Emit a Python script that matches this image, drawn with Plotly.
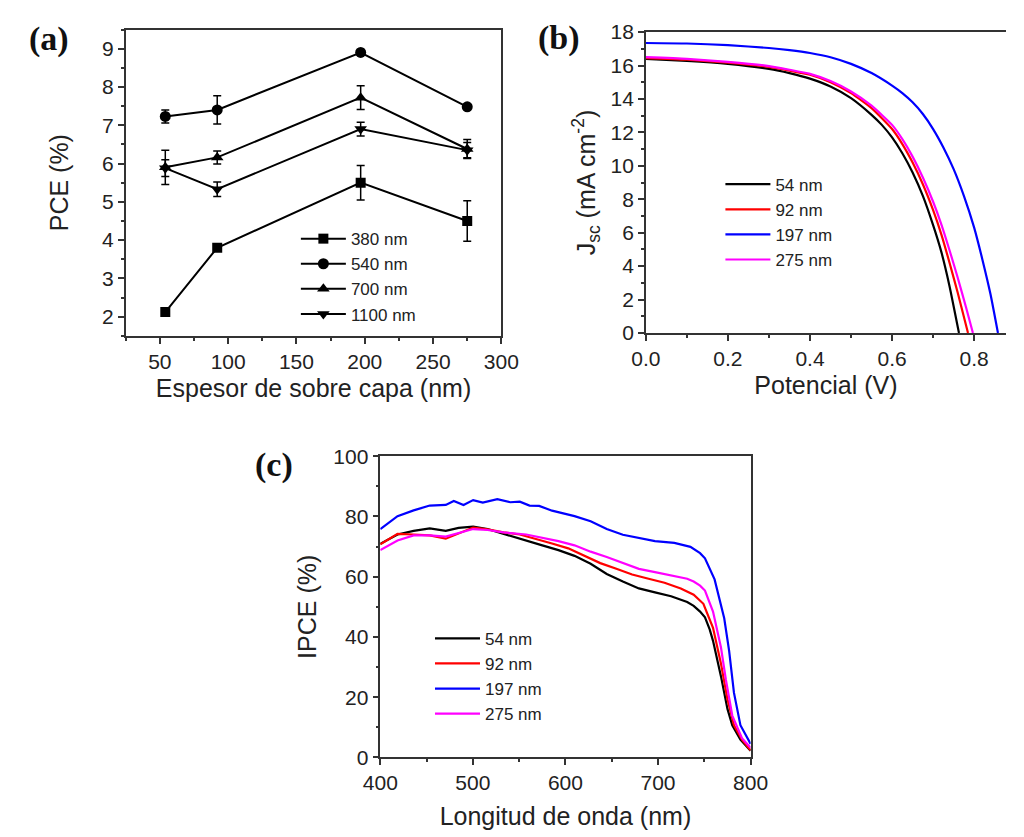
import plotly.graph_objects as go

# ---------------- Panel (a): PCE vs overlayer thickness ----------------
thick = [54, 92, 197, 275]
pce_380 = [2.12, 3.80, 5.50, 4.50]
err_380 = [0.08, 0.06, 0.45, 0.53]
pce_540 = [7.23, 7.40, 8.90, 7.48]
err_540 = [0.17, 0.37, 0.06, 0.05]
pce_700 = [5.90, 6.16, 7.72, 6.38]
err_700 = [0.45, 0.17, 0.31, 0.25]
pce_1100 = [5.88, 5.33, 6.90, 6.35]
err_1100 = [0.22, 0.19, 0.18, 0.20]

# ---------------- Panel (b): J-V curves ----------------
v_54 = [0, 0.1, 0.2, 0.3, 0.35, 0.4, 0.45, 0.5, 0.55, 0.575, 0.6, 0.625, 0.65, 0.675, 0.7, 0.72, 0.74, 0.763]
j_54 = [16.4, 16.28, 16.1, 15.8, 15.55, 15.22, 14.75, 14.05, 13.05, 12.45, 11.7, 10.75, 9.6, 8.2, 6.45, 4.85,
        2.8, 0]
v_92 = [0, 0.1, 0.2, 0.3, 0.35, 0.4, 0.45, 0.5, 0.55, 0.6, 0.625, 0.65, 0.675, 0.7, 0.72, 0.74, 0.76, 0.785]
j_92 = [16.45, 16.35, 16.18, 15.92, 15.7, 15.45, 15.0, 14.35, 13.45, 12.2, 11.3, 10.2, 8.9, 7.35, 5.9, 4.2, 2.4, 0]
v_197 = [0, 0.1, 0.2, 0.3, 0.35, 0.4, 0.45, 0.5, 0.55, 0.6, 0.625, 0.65, 0.675, 0.7, 0.725, 0.75,
         0.775, 0.8, 0.82, 0.84, 0.858]
j_197 = [17.35, 17.32, 17.22, 17.05, 16.92, 16.75, 16.5, 16.1, 15.55, 14.8, 14.35, 13.8, 13.1, 12.2, 11.1, 9.8,
         8.2, 6.3, 4.4, 2.3, 0]
v_275 = [0, 0.1, 0.2, 0.3, 0.35, 0.4, 0.45, 0.5, 0.55, 0.6, 0.625, 0.65, 0.675, 0.7, 0.72, 0.74, 0.76, 0.78, 0.797]
j_275 = [16.5, 16.4, 16.22, 15.97, 15.75, 15.5, 15.07, 14.45, 13.6, 12.45, 11.6, 10.55, 9.3, 7.85, 6.5, 4.95, 3.3,
         1.55, 0]

# ---------------- Panel (c): IPCE spectra ----------------
wl_54 = [400, 418.6, 436, 453.4, 470.7, 484.6, 500.3, 515.9, 529.8, 543.7, 557.6, 575, 592.4,
         609.8, 627.2, 644.6, 662, 679.3, 696.7, 714.1, 731.5, 738.5, 745.4, 750.7, 755.8,
         759.4, 768, 775, 780.2, 789, 800]
ipce_54 = [70.9, 74.0, 75.2, 76.0, 75.2, 76.2, 76.6, 75.8, 74.5, 73.3, 72.0, 70.4, 68.8,
           66.9, 64.3, 60.9, 58.4, 56.1, 54.8, 53.5, 51.6, 50.3, 48.4, 46.5, 42.5,
           38.7, 26.9, 16.1, 10.7, 5.9, 2.2]
wl_92 = [400, 418.6, 436, 453.4, 470.7, 484.6, 500.3, 515.9, 533, 550.7, 568, 585.5, 603,
         620, 637.6, 655, 672, 689.8, 707, 724.6, 738.5, 749, 759.4, 768, 775, 782, 790.7, 800]
ipce_92 = [70.7, 74.2, 74.0, 73.7, 72.6, 74.4, 76.3, 75.7, 74.7, 74.0, 72.6, 71.0, 69.4,
           67.0, 64.5, 62.6, 60.7, 59.3, 58.0, 56.1, 54.0, 51.0, 43.0, 31.1, 19.3, 10.7, 5.9, 2.4]
wl_197 = [400, 418.6, 436, 453.4, 470.7, 479.4, 489.9, 500.3, 510.7, 526.4, 540.3, 550.7,
          561.2, 571.6, 585.5, 609.8, 627.2, 644.6, 662, 679.3, 696.7, 717.6, 735, 745.4,
          750.7, 761.1, 771.5, 776.8, 782, 789, 800]
ipce_197 = [75.8, 80.1, 82.0, 83.6, 83.8, 85.1, 83.8, 85.4, 84.6, 85.7, 84.7, 84.9,
            83.6, 83.5, 81.9, 80.1, 78.4, 75.8, 73.9, 72.9, 71.8, 71.2, 69.9, 67.8,
            66.1, 59.1, 46.2, 35.4, 21.5, 10.7, 4.5]
wl_275 = [400, 418.6, 436, 453.4, 470.7, 484.6, 500.3, 515.9, 533, 557.6, 575, 592.4, 609.8,
          627.2, 644.6, 662, 679.3, 696.7, 714.1, 731.5, 738.5, 745.4, 750.7, 755.8, 759.4,
          768, 773.3, 780.2, 790.7, 800]
ipce_275 = [68.8, 72.0, 73.7, 73.7, 73.3, 74.4, 75.8, 75.5, 74.7, 74.0, 72.9, 71.8, 70.4,
            68.3, 66.5, 64.5, 62.6, 61.5, 60.4, 59.3, 58.4, 57.0, 55.4, 51.5, 48.4,
            36.5, 25.8, 13.9, 6.4, 3.2]

labels_a = ["380 nm", "540 nm", "700 nm", "1100 nm"]
labels_bc = ["54 nm", "92 nm", "197 nm", "275 nm"]
colors_bc = ["#000000", "#ff0000", "#0000ff", "#ff00ff"]

FONT = "Liberation Sans, Arial, sans-serif"
W, H = 1024, 837

fig = go.Figure()

# Panel (a)
symbols = ["square", "circle", "triangle-up", "triangle-down"]
sizes = [10, 11, 11, 11]
for name, ys, es, sym, sz in zip(labels_a, [pce_380, pce_540, pce_700, pce_1100],
                                 [err_380, err_540, err_700, err_1100], symbols, sizes):
    fig.add_trace(go.Scatter(
        x=thick, y=ys, name=name, mode="lines+markers",
        line=dict(color="black", width=2),
        marker=dict(symbol=sym, size=sz, color="black"),
        error_y=dict(type="data", array=es, visible=True, color="black", thickness=1.5, width=4),
        xaxis="x", yaxis="y", legend="legend"))

# Panel (b)
for name, vs, js, c in zip(labels_bc, [v_54, v_92, v_197, v_275], [j_54, j_92, j_197, j_275], colors_bc):
    fig.add_trace(go.Scatter(
        x=vs, y=js, name=name, mode="lines", line=dict(color=c, width=2.2, shape="spline", smoothing=0.5),
        xaxis="x2", yaxis="y2", legend="legend2"))

# Panel (c)
for name, ws, ys, c in zip(labels_bc, [wl_54, wl_92, wl_197, wl_275],
                           [ipce_54, ipce_92, ipce_197, ipce_275], colors_bc):
    fig.add_trace(go.Scatter(
        x=ws, y=ys, name=name, mode="lines", line=dict(color=c, width=2.2),
        xaxis="x3", yaxis="y3", legend="legend3"))


def px_x(p):
    return p / W


def px_y(p):
    return 1 - p / H


axis_common = dict(
    showline=True, linecolor="#333333", linewidth=1.5, ticks="outside", ticklen=6,
    tickwidth=1.5, tickcolor="#333333", showgrid=False, zeroline=False,
    tickfont=dict(family=FONT, size=21, color="#222222"),
)
title_font = dict(family=FONT, size=25, color="#222222")
minor_common = dict(ticks="outside", ticklen=3, tickcolor="#333333")
leg_font = dict(family=FONT, size=17, color="#222222")

fig.update_layout(
    width=W, height=H, margin=dict(l=0, r=0, t=0, b=0),
    paper_bgcolor="white", plot_bgcolor="white", showlegend=True,
    xaxis=dict(axis_common, domain=[px_x(111.6), px_x(501)], range=[25, 300], dtick=50, tick0=50,
               mirror=True, minor=dict(minor_common, dtick=25, tick0=25),
               title=dict(text="Espesor de sobre capa (nm)", font=title_font, standoff=8), anchor="y"),
    yaxis=dict(axis_common, domain=[px_y(333), px_y(18)], range=[1.5, 9.5], dtick=1, tick0=2,
               mirror=True, minor=dict(minor_common, dtick=0.5, tick0=1.5),
               title=dict(text="PCE (%)", font=title_font, standoff=26), anchor="x"),
    xaxis2=dict(axis_common, domain=[px_x(650.7), 1.0], range=[0, 0.8776], dtick=0.2, tick0=0,
                tickformat=".1f", mirror=True, minor=dict(minor_common, dtick=0.1),
                title=dict(text="Potencial (V)", font=title_font, standoff=8), anchor="y2"),
    yaxis2=dict(axis_common, domain=[px_y(330), px_y(20.7)], range=[0, 18], dtick=2, tick0=0,
                minor=dict(minor_common, dtick=1),
                title=dict(text="J<sub>sc</sub> (mA cm<sup>-2</sup>)", font=title_font, standoff=8),
                anchor="x2"),
    xaxis3=dict(axis_common, domain=[px_x(375.5), px_x(759.3)], range=[400, 800], dtick=100,
                mirror=True, minor=dict(minor_common, dtick=50),
                title=dict(text="Longitud de onda (nm)", font=title_font, standoff=14), anchor="y3"),
    yaxis3=dict(axis_common, domain=[px_y(766.5), px_y(456.7)], range=[0, 100], dtick=20,
                mirror=True, minor=dict(minor_common, dtick=10),
                title=dict(text="IPCE (%)", font=title_font, standoff=10), anchor="x3"),
    legend=dict(x=px_x(288), y=px_y(215), xanchor="left", yanchor="top", bgcolor="rgba(0,0,0,0)",
                font=leg_font, tracegroupgap=0, itemwidth=45),
    legend2=dict(x=px_x(728), y=px_y(159), xanchor="left", yanchor="top", bgcolor="rgba(0,0,0,0)",
                 font=leg_font, itemwidth=45),
    legend3=dict(x=px_x(427), y=px_y(626), xanchor="left", yanchor="top", bgcolor="rgba(0,0,0,0)",
                 font=leg_font, itemwidth=45),
)

panel_font = dict(family="Liberation Serif, Times New Roman, serif", size=34, color="#111111")
for txt, x, y in [("<b>(a)</b>", 9, 28), ("<b>(b)</b>", 537, 27), ("<b>(c)</b>", 244, 466)]:
    fig.add_annotation(text=txt, x=px_x(x), y=px_y(y), xref="paper", yref="paper",
                       showarrow=False, font=panel_font, xanchor="left", yanchor="middle")

fig.write_html("out.html")
